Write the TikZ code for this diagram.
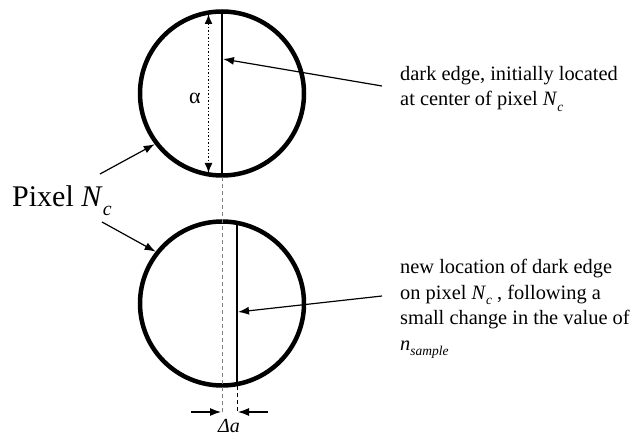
\documentclass[tikz,border=0pt]{standalone}
\usepackage{fontspec}
\usepackage{graphicx}
\setmainfont{Liberation Serif}
\usetikzlibrary{arrows.meta}
\newcommand{\subtx}[1]{\raisebox{-0.28em}{\scalebox{0.66}{\textit{#1}}}}
\newcommand{\Ncsym}{\textit{N}\subtx{c}}
\tikzset{
  pixelcircle/.style={draw=black, line width=4.5pt},
  edgeline/.style={draw=black, line width=1.2pt},
  pointer/.style={draw=black, line width=1.2pt, -{Latex[length=11pt,width=8pt]}},
  labeltext/.style={anchor=base west, align=left, inner sep=0pt, font=\fontsize{20.4}{25.5}\selectfont},
}
\begin{document}
\begin{tikzpicture}[x=1pt,y=-1pt]
\useasboundingbox (0,0) rectangle (634,435);
% circles
\node[pixelcircle, circle, minimum size=164pt, inner sep=0pt] (top) at (222,93.5) {};
\node[pixelcircle, circle, minimum size=164pt, inner sep=0pt] (bot) at (222,303.5) {};
% edge lines
\coordinate (tt) at (222,12);
\coordinate (tb) at (222,175);
\draw[edgeline] (tt) -- (tb);
\coordinate (bt) at (237,222);
\coordinate (bb) at (237,385);
\draw[edgeline] (bt) -- (bb);
% alpha dimension
\coordinate (at) at (208.5,14);
\coordinate (ab) at (208.5,173);
\draw[line width=1.5pt, dotted, {Latex[length=10pt,width=8pt]}-{Latex[length=10pt,width=8pt]}] (at) -- (ab);
\node[font=\fontsize{22}{22}\selectfont, inner sep=0pt] (alpha) at (195,98) {α};
% reference dashed lines
\coordinate (d1) at (222,177);
\coordinate (d2) at (222,412);
\draw[gray, line width=0.8pt, dash pattern=on 4pt off 3pt] (d1) -- (d2);
\coordinate (d3) at (237,386);
\coordinate (d4) at (237,412);
\draw[black, line width=0.8pt, dash pattern=on 4pt off 3pt] (d3) -- (d4);
% delta a arrows
\coordinate (la) at (191,412);
\coordinate (lb) at (221,412);
\coordinate (ra) at (268,412);
\coordinate (rb) at (238,412);
\draw[pointer] (la) -- (lb);
\draw[pointer] (ra) -- (rb);
\node[font=\fontsize{20}{20}\selectfont\itshape, anchor=base, inner sep=0pt] (da) at (229,432) {Δa};
% Pixel label
\node[anchor=base west, inner sep=0pt, font=\fontsize{30}{30}\selectfont] (pix) at (12,207) {Pixel \Ncsym};
\coordinate (p1) at (100,174);
\coordinate (p2) at (102,222);
\draw[pointer] (p1) -- (top.{180+37});
\draw[pointer] (p2) -- (bot.{180-38});
% top label
\node[labeltext] (lab1) at (400,106) {dark edge, initially located\\at center of pixel \Ncsym};
\coordinate (s1) at (382,86);
\coordinate (e1) at (223,59);
\draw[pointer] (s1) -- (e1);
% bottom label
\node[labeltext] (lab2) at (400,350) {new location of dark edge\\on pixel \Ncsym\ , following a\\small change in the value of\\\textit{n}\subtx{sample}};
\coordinate (s2) at (382,296);
\coordinate (e2) at (238,312);
\draw[pointer] (s2) -- (e2);
\end{tikzpicture}
\end{document}
